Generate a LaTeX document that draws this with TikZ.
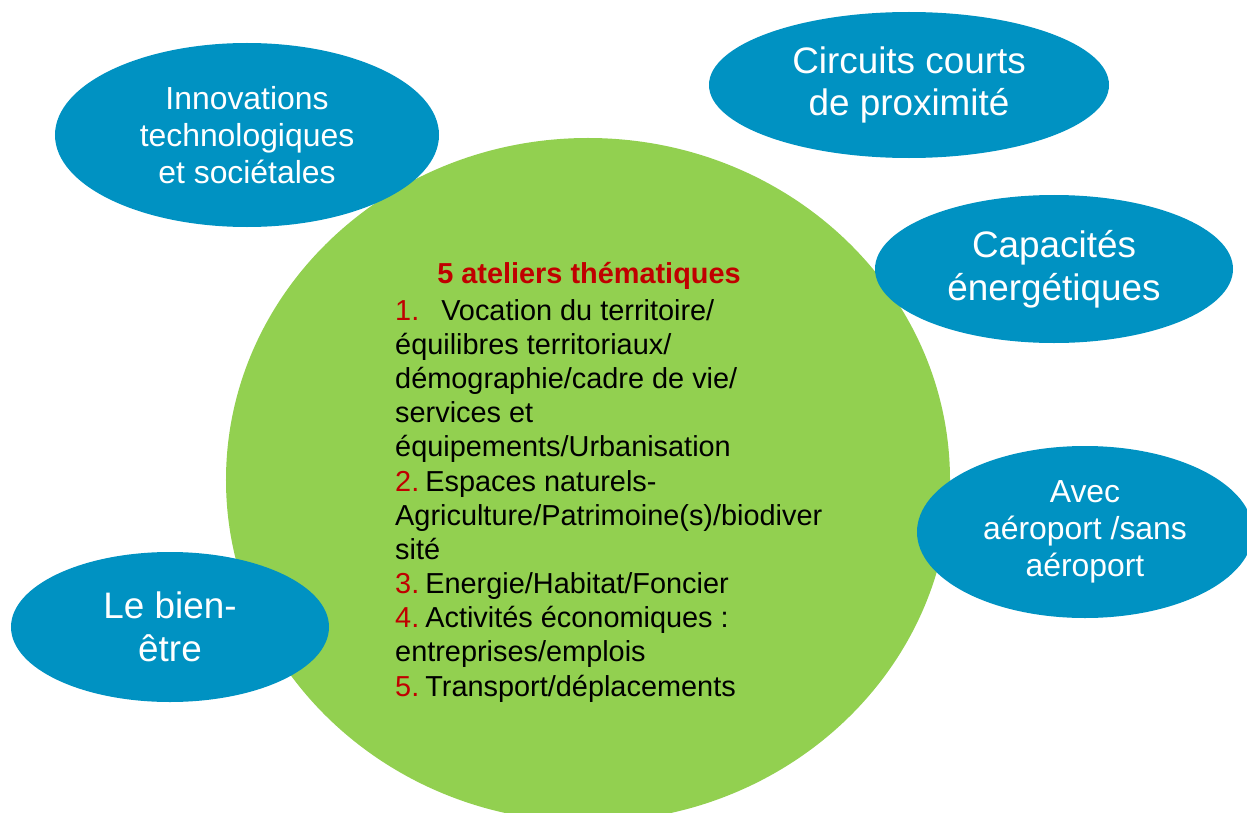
\documentclass[tikz,border=0pt]{standalone}
\usepackage{fontspec}
\setmainfont{Liberation Sans}
\usetikzlibrary{positioning, shapes.geometric}

\definecolor{bleu}{RGB}{0,146,194}
\definecolor{vert}{RGB}{146,208,80}
\definecolor{rouge}{RGB}{192,0,0}

\tikzset{
  bulle/.style={ellipse, fill=bleu, text=white, inner sep=0pt, align=center},
  grande/.style={font=\fontsize{37}{43}\selectfont},
  petite/.style={font=\fontsize{32}{37}\selectfont},
}
\newcommand{\nr}[1]{\textcolor{rouge}{#1}}

\begin{document}
\begin{tikzpicture}[x=1bp, y=-1bp]
            \useasboundingbox (0,0) rectangle (1247,813);
            \clip (0,0) rectangle (1247,813);

            \node[ellipse, fill=vert, inner sep=0pt, minimum width=724bp, minimum height=684bp] (centre) at (588,480) {};

            \node[bulle, petite, minimum width=384bp, minimum height=184bp] (innov) at (247,135) {Innovations\\technologiques\\et sociétales};
            \node[bulle, grande, minimum width=400bp, minimum height=146bp] (circuits) at (909,85) {Circuits courts\\de proximité};
            \node[bulle, grande, minimum width=358bp, minimum height=148bp] (capa) at (1054,269) {Capacités\\énergétiques};
            \node[bulle, petite, minimum width=336bp, minimum height=172bp] (aero) at (1085,532) {Avec\\aéroport /sans\\aéroport};
            \node[bulle, grande, minimum width=318bp, minimum height=150bp] (bien) at (170,627) {Le bien-\\être};

            \node[anchor=base, inner sep=0pt, text=rouge, font=\fontsize{29}{34.3}\selectfont\bfseries] (titre) at (589,283) {5 ateliers thématiques};
            \node[anchor=north west, inner sep=0pt, align=left, font=\fontsize{29}{34.3}\selectfont] (ateliers) at (395,299) {%
              \nr{1.}\hspace{22bp}Vocation du territoire/\\
              équilibres territoriaux/\\
              démographie/cadre de vie/\\
              services et\\
              équipements/Urbanisation\\
              \nr{2.}\hspace{6bp}Espaces naturels-\\
              Agriculture/Patrimoine(s)/biodiver\\
              sité\\
              \nr{3.}\hspace{6bp}Energie/Habitat/Foncier\\
              \nr{4.}\hspace{6bp}Activités économiques :\\
              entreprises/emplois\\
              \nr{5.}\hspace{6bp}Transport/déplacements};
        \end{tikzpicture}
\end{document}
